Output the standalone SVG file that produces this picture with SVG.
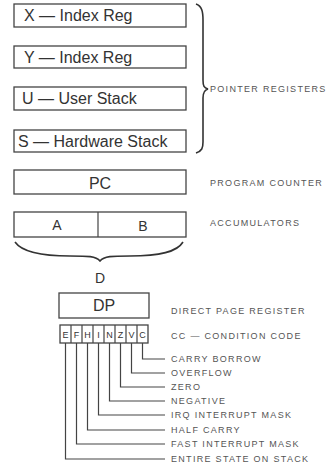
<svg xmlns="http://www.w3.org/2000/svg" width="327" height="468" viewBox="0 0 327 468">
<style>
.box{fill:#fff;stroke:#444;stroke-width:1.3}
.reg{font-family:"Liberation Sans",Arial,sans-serif;font-size:16px;fill:#333}
.ab{font-family:"Liberation Sans",Arial,sans-serif;font-size:14px;fill:#333}
.cc{font-family:"Liberation Sans",Arial,sans-serif;font-size:9px;fill:#333;text-anchor:middle}
.lbl{font-family:"Liberation Sans",Arial,sans-serif;font-size:9px;letter-spacing:1.3px;fill:#555}
.ln{fill:none;stroke:#444;stroke-width:1.2}
.brace{fill:none;stroke:#333;stroke-width:1.6}
</style>
<rect width="327" height="468" fill="#fff"/>
<g id="x-reg"><rect class="box" x="14" y="4" width="172" height="23"/><text class="reg" x="24" y="21">X — Index Reg</text></g>
<g id="y-reg"><rect class="box" x="14" y="46" width="172" height="22"/><text class="reg" x="24" y="63">Y — Index Reg</text></g>
<g id="u-reg"><rect class="box" x="14" y="87" width="172" height="23"/><text class="reg" x="22" y="104">U — User Stack</text></g>
<g id="s-reg"><rect class="box" x="14" y="130" width="172" height="22"/><text class="reg" x="18" y="147">S — Hardware Stack</text></g>
<g id="pointer-label"><text class="lbl" x="210" y="92">POINTER REGISTERS</text></g>
<g id="pc"><rect class="box" x="14" y="170" width="172" height="24"/><text class="reg" x="100" y="189" text-anchor="middle">PC</text><text class="lbl" x="210" y="186">PROGRAM COUNTER</text></g>
<g id="acc"><rect class="box" x="14" y="212" width="172" height="25"/><line class="ln" x1="98" y1="212" x2="98" y2="237"/><text class="ab" x="57" y="230" text-anchor="middle">A</text><text class="ab" x="143" y="231" text-anchor="middle">B</text><text class="lbl" x="210" y="226">ACCUMULATORS</text></g>
<g id="d"><text class="ab" x="100" y="283" text-anchor="middle">D</text></g>
<g id="dp"><rect class="box" x="59" y="293" width="90" height="25"/><text class="reg" x="104" y="311" text-anchor="middle">DP</text><text class="lbl" x="171" y="314">DIRECT PAGE REGISTER</text></g>
<g id="cc">
<rect class="box" x="60" y="325" width="88" height="18"/>
<g class="ln"><line x1="71" y1="325" x2="71" y2="343"/><line x1="82" y1="325" x2="82" y2="343"/><line x1="93" y1="325" x2="93" y2="343"/><line x1="104" y1="325" x2="104" y2="343"/><line x1="115" y1="325" x2="115" y2="343"/><line x1="126" y1="325" x2="126" y2="343"/><line x1="137" y1="325" x2="137" y2="343"/></g>
<text class="cc" x="65.5" y="338">E</text><text class="cc" x="76.5" y="338">F</text><text class="cc" x="87.5" y="338">H</text><text class="cc" x="98.5" y="338">I</text><text class="cc" x="109.5" y="338">N</text><text class="cc" x="120.5" y="338">Z</text><text class="cc" x="131.5" y="338">V</text><text class="cc" x="142.5" y="338">C</text>
<text class="lbl" x="171" y="339">CC — CONDITION CODE</text>
</g>
<g id="flag-labels">
<text class="lbl" x="171" y="362">CARRY BORROW</text>
<text class="lbl" x="171" y="376">OVERFLOW</text>
<text class="lbl" x="171" y="390">ZERO</text>
<text class="lbl" x="171" y="404">NEGATIVE</text>
<text class="lbl" x="171" y="418">IRQ INTERRUPT MASK</text>
<text class="lbl" x="171" y="433">HALF CARRY</text>
<text class="lbl" x="171" y="447">FAST INTERRUPT MASK</text>
<text class="lbl" x="171" y="462">ENTIRE STATE ON STACK</text>
</g>
<g id="connectors">
<path class="brace" d="M196,4 C202,6 203,12 203,20 L203,80 C203,86 204,88 208,89 C204,90 203,93 203,98 L203,142 C203,148 202,151 196,153"/>
<path class="brace" d="M15,242 C22,252 40,256 70,256 C88,256 96,256 100,261 C104,256 112,256 130,256 C160,256 177,252 183,242"/>
<g class="ln">
<polyline points="142.5,343 142.5,359 165,359"/>
<polyline points="131.5,343 131.5,373 165,373"/>
<polyline points="120.5,343 120.5,387 165,387"/>
<polyline points="109.5,343 109.5,401 165,401"/>
<polyline points="98.5,343 98.5,415 165,415"/>
<polyline points="87.5,343 87.5,430 165,430"/>
<polyline points="76.5,343 76.5,444 165,444"/>
<polyline points="65.5,343 65.5,459 165,459"/>
</g>
</g>
</svg>
